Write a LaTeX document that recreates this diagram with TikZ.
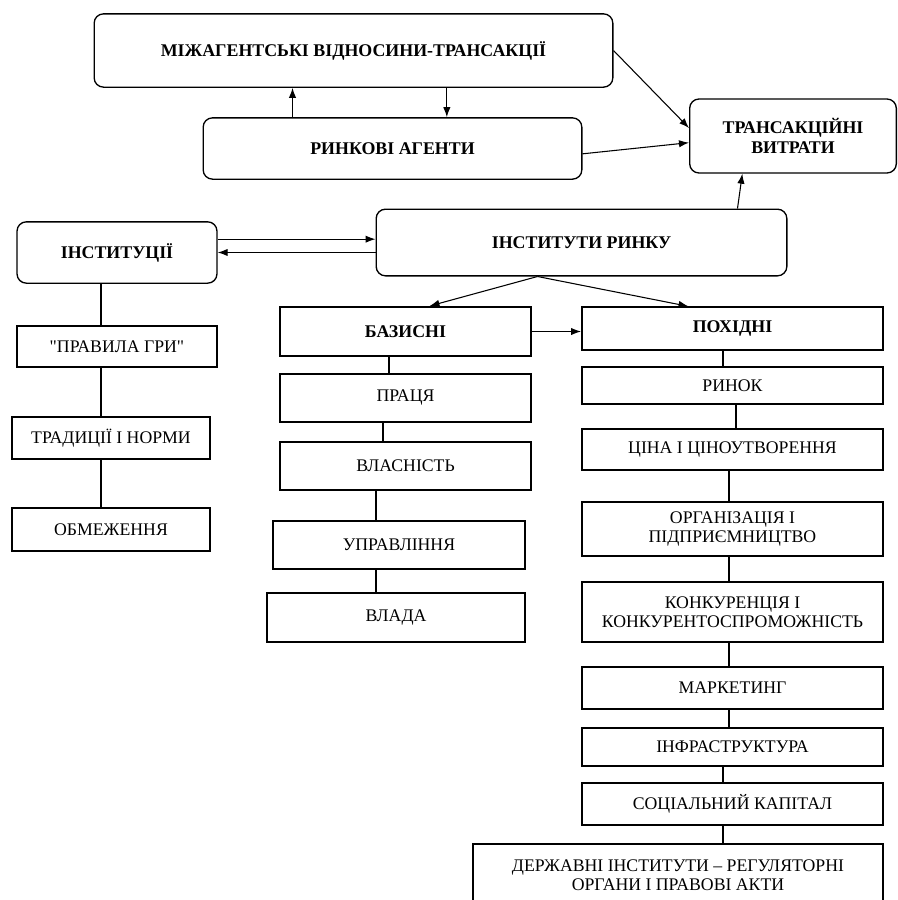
\documentclass[tikz,border=0pt]{standalone}
\usepackage{fontspec}
\setmainfont{Liberation Serif}[Ligatures=TeXOff]
\usetikzlibrary{arrows.meta, positioning}

\begin{document}
\begin{tikzpicture}[
        x=0.75pt, y=-0.75pt,
        round/.style={draw, line width=1pt, rounded corners=7pt, align=center, font=\fontsize{13.4}{15}\selectfont\bfseries},
        block/.style={draw, line width=1.2pt, align=center, inner sep=2pt, font=\fontsize{13.3}{14}\selectfont},
        arrow/.style={-{Latex[length=7.5pt,width=5.5pt]}, line width=0.8pt},
        link/.style={line width=1.2pt}
    ]
        \clip (0,0) rectangle (898,900);

        % Top level
        \node[round, minimum width=389pt, minimum height=55pt] (mizh) at (353.5,50.5) {МІЖАГЕНТСЬКІ ВІДНОСИНИ-ТРАНСАКЦІЇ};

        \node[round, minimum width=284pt, minimum height=46pt] (agents) at (392.5,148.5) {РИНКОВІ АГЕНТИ};

        \node[round, minimum width=155pt, minimum height=55.5pt] (costs) at (793,136) {ТРАНСАКЦІЙНІ\\ВИТРАТИ};

        \node[round, minimum width=150pt, minimum height=46pt] (instytutsii) at (117,252.5) {ІНСТИТУЦІЇ};

        \node[round, minimum width=308pt, minimum height=50pt] (instmarket) at (581.5,242.5) {ІНСТИТУТИ РИНКУ};

        % Left column
        \node[block, minimum width=150pt, minimum height=31pt] (rules) at (117,346.5) {"ПРАВИЛА ГРИ"};
        \node[block, minimum width=148.5pt, minimum height=31.5pt] (tradytsii) at (111,438) {ТРАДИЦІЇ І НОРМИ};
        \node[block, minimum width=148.5pt, minimum height=32pt] (obmezh) at (111,529.5) {ОБМЕЖЕННЯ};

        % Middle column
        \node[block, font=\fontsize{13.4}{14}\selectfont\bfseries, minimum width=188pt, minimum height=37pt] (bazysni) at (405.5,331.5) {БАЗИСНІ};
        \node[block, minimum width=188pt, minimum height=36pt] (pratsia) at (405.5,398) {ПРАЦЯ};
        \node[block, minimum width=188pt, minimum height=36pt] (vlasnist) at (405.5,466) {ВЛАСНІСТЬ};
        \node[block, minimum width=189pt, minimum height=36pt] (upravl) at (399,545) {УПРАВЛІННЯ};
        \node[block, minimum width=193.5pt, minimum height=37pt] (vlada) at (396,617.5) {ВЛАДА};

        % Right column
        \node[block, font=\fontsize{13.4}{14}\selectfont\bfseries, minimum width=226pt, minimum height=32pt] (pokhidni) at (732.5,328.5) {ПОХІДНІ};
        \node[block, minimum width=226pt, minimum height=28pt] (rynok) at (732.5,385.5) {РИНОК};
        \node[block, minimum width=226pt, minimum height=31pt] (tsina) at (732.5,449.5) {ЦІНА І ЦІНОУТВОРЕННЯ};
        \node[block, minimum width=226pt, minimum height=40.5pt] (orgdiy) at (732.5,529) {ОРГАНІЗАЦІЯ І\\ПІДПРИЄМНИЦТВО};
        \node[block, minimum width=226pt, minimum height=45pt] (konk) at (732.5,612) {КОНКУРЕНЦІЯ І\\КОНКУРЕНТОСПРОМОЖНІСТЬ};
        \node[block, minimum width=226pt, minimum height=31.5pt] (marketing) at (732.5,688) {МАРКЕТИНГ};
        \node[block, minimum width=226pt, minimum height=28.5pt] (infra) at (732.5,747) {ІНФРАСТРУКТУРА};
        \node[block, minimum width=226pt, minimum height=31.5pt] (social) at (732.5,804) {СОЦІАЛЬНИЙ КАПІТАЛ};
        \node[block, minimum width=307.5pt, minimum height=46.5pt] (derzh) at (678,875) {ДЕРЖАВНІ ІНСТИТУТИ – РЕГУЛЯТОРНІ\\ОРГАНИ І ПРАВОВІ АКТИ};

        % Spines of the columns
        \coordinate (lA) at (101,0);
        \coordinate (mA) at (389,0);
        \coordinate (mB) at (383,0);
        \coordinate (mC) at (376,0);
        \coordinate (rA) at (723,0);
        \coordinate (rB) at (736,0);
        \coordinate (rC) at (729,0);

        % Arrows
        \draw[arrow] ([xshift=-75pt]agents.north) -- ([xshift=-75pt]agents.north |- mizh.south);
        \draw[arrow] ([xshift=70pt]mizh.south) -- ([xshift=70pt]mizh.south |- agents.north);
        \draw[arrow] (mizh.east) -- ([yshift=6pt]costs.west);
        \draw[arrow] ([yshift=-4pt]agents.east) -- ([yshift=-5pt]costs.west);
        \draw[arrow] ([xshift=117pt]instmarket.north) -- ([xshift=-38pt]costs.south);
        \draw[arrow] ([yshift=10pt]instytutsii.east) -- ([yshift=10pt]instytutsii.east -| instmarket.west);
        \draw[arrow] (instytutsii.east -| instmarket.west) -- (instytutsii.east);

        \coordinate (split) at ([xshift=-33pt]instmarket.south);
        \draw[arrow] (split) -- ([xshift=18pt]bazysni.north);
        \draw[arrow] (split) -- ([xshift=-33pt]pokhidni.north);
        \draw[arrow] (bazysni.east) -- (bazysni.east -| pokhidni.west);

        % Links
        \draw[link] (instytutsii.south -| lA) -- (rules.north -| lA);
        \draw[link] (rules.south -| lA) -- (tradytsii.north -| lA);
        \draw[link] (tradytsii.south -| lA) -- (obmezh.north -| lA);

        \draw[link] (bazysni.south -| mA) -- (pratsia.north -| mA);
        \draw[link] (pratsia.south -| mB) -- (vlasnist.north -| mB);
        \draw[link] (vlasnist.south -| mC) -- (upravl.north -| mC);
        \draw[link] (upravl.south -| mC) -- (vlada.north -| mC);

        \draw[link] (pokhidni.south -| rA) -- (rynok.north -| rA);
        \draw[link] (rynok.south -| rB) -- (tsina.north -| rB);
        \draw[link] (tsina.south -| rC) -- (orgdiy.north -| rC);
        \draw[link] (orgdiy.south -| rC) -- (konk.north -| rC);
        \draw[link] (konk.south -| rC) -- (marketing.north -| rC);
        \draw[link] (marketing.south -| rC) -- (infra.north -| rC);
        \draw[link] (infra.south -| rA) -- (social.north -| rA);
        \draw[link] (social.south -| rA) -- (derzh.north -| rA);
    \end{tikzpicture}
\end{document}
